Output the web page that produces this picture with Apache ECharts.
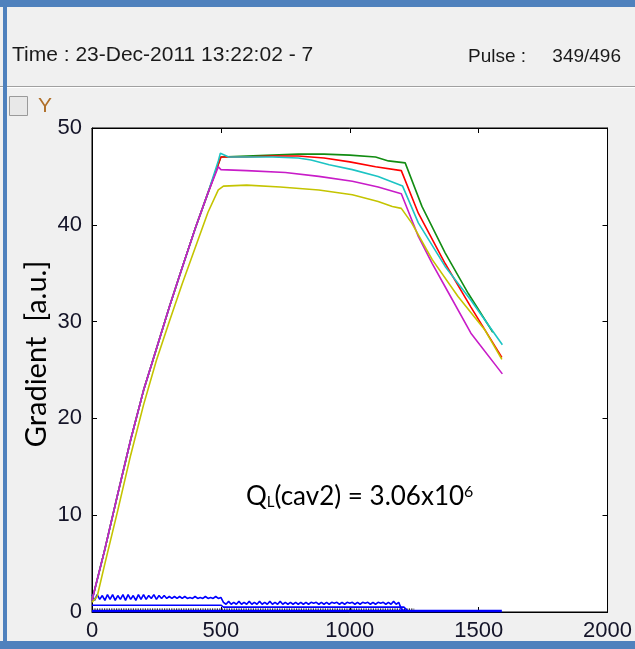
<!DOCTYPE html>
<html>
<head>
<meta charset="utf-8">
<script src="https://cdn.jsdelivr.net/npm/echarts@6/dist/echarts.min.js"></script>
<style>
  html, body { margin: 0; padding: 0; background: #f0f0f0; }
  #chart { width: 635px; height: 649px; }
</style>
</head>
<body>
<div id="chart"></div>
<script>
// ---- data ----
// common filling curve (green / red / cyan / magenta overlap here)
const riseX = [0, 50, 100, 150, 200, 250, 300, 350, 400, 450];
const riseY = [1.2, 6.5, 12.2, 17.8, 22.9, 27.2, 31.5, 35.6, 39.6, 43.3];

const greenX = [500, 600, 700, 800, 900, 1000, 1100, 1150, 1215, 1280, 1370, 1460, 1555];
const greenY = [47.0, 47.1, 47.2, 47.3, 47.3, 47.2, 47.0, 46.6, 46.4, 41.9, 37.1, 32.9, 28.9];

const redX = [500, 600, 700, 800, 900, 1000, 1100, 1200, 1266, 1370, 1470, 1590];
const redY = [47.0, 47.0, 47.1, 47.1, 46.9, 46.5, 46.0, 45.6, 41.2, 36.0, 31.5, 26.3];

const cyanX = [490, 498, 530, 600, 700, 800, 850, 920, 1010, 1110, 1205, 1266, 1370, 1470, 1592];
const cyanY = [46.6, 47.4, 47.0, 47.0, 47.0, 46.9, 46.7, 46.2, 45.7, 45.0, 44.0, 40.2, 35.7, 32.2, 27.6];

const magentaX = [490, 500, 600, 750, 880, 1010, 1110, 1200, 1266, 1320, 1370, 1470, 1592];
const magentaY = [46.0, 45.7, 45.6, 45.4, 45.0, 44.5, 43.9, 43.2, 38.8, 36.0, 33.6, 28.8, 24.6];

const yellowX = [0, 20, 50, 100, 150, 200, 250, 300, 350, 400, 450, 490, 510,
                 600, 730, 880, 1010, 1110, 1165, 1200, 1240, 1320, 1420, 1525, 1590];
const yellowY = [1.0, 1.6, 5.0, 10.5, 16.2, 21.4, 26.0, 30.0, 33.9, 37.6, 41.3, 43.6, 44.0,
                 44.1, 43.9, 43.6, 43.1, 42.4, 41.9, 41.7, 40.2, 36.4, 32.6, 29.1, 26.1];

// noisy blue trace near zero, sampled every 10
const noiseStep = 10;
const blueNoiseY = [
  1.8, 1.2, 1.8, 1.3, 1.7, 1.2, 1.8, 1.3, 1.8, 1.2,
  1.7, 1.3, 1.8, 1.2, 1.8, 1.3, 1.7, 1.2, 1.8, 1.3,
  1.8, 1.3, 1.7, 1.4, 1.8, 1.3, 1.7, 1.4, 1.7, 1.4,
  1.6, 1.4, 1.6, 1.4, 1.6, 1.4, 1.6, 1.4, 1.5, 1.4,
  1.6, 1.4, 1.5, 1.4, 1.6, 1.4, 1.5, 1.4, 1.6, 1.4,
  1.5,
  1.0, 0.8, 1.1, 0.8, 1.0, 0.8, 1.1, 0.8, 1.0, 0.8,
  1.1, 0.8, 1.0, 0.8, 1.1, 0.8, 1.0, 0.8, 1.1, 0.8,
  1.0, 0.8, 1.1, 0.8, 1.0, 0.8, 1.0, 0.8, 1.0, 0.8,
  1.0, 0.8, 1.0, 0.8, 1.0, 0.9, 1.0, 0.8, 1.0, 0.8,
  1.0, 0.8, 1.0, 0.9, 1.0, 0.8, 1.0, 0.8, 1.0, 0.9,
  1.0, 0.8, 1.0, 0.8, 1.0, 0.9, 1.0, 0.8, 1.0, 0.8,
  1.0, 0.9, 1.0, 0.8, 1.0, 0.8, 1.1, 0.8, 1.0, 0.3,
  0.15, 0.1
];
const blueMidX = [0, 500, 510, 1210, 1225];
const blueMidY = [0.7, 0.7, 0.5, 0.5, 0.12];
const blueBaseX = [0, 1590];
const blueBaseY = [0.1, 0.1];
const blackX = [0, 1250];
const blackY = [0.3, 0.3];

const xTicks = [0, 2000, 500];   // min, max, step
const yTicks = [0, 50, 10];

// pair up x / y lists
function pts(xs, ys) {
  return xs.map((x, i) => [x, ys[i]]);
}

const chart = echarts.init(document.getElementById('chart'));

const lineBase = (name, color, data, width, type) => ({
  name: name,
  type: 'line',
  data: data,
  showSymbol: false,
  silent: true,
  animation: false,
  lineStyle: { color: color, width: width || 1.6, type: type || 'solid' },
  itemStyle: { color: color }
});

const tickFont = { fontSize: 22, color: '#141428', fontFamily: 'Liberation Sans, Arial, sans-serif' };
const hdrFont = 'Liberation Sans, Arial, sans-serif';
// box around the plot, ticks pointing inwards (MATLAB style)
const boxLine = { show: true, onZero: false, lineStyle: { color: '#000', width: 1 } };
const inTick = { show: true, inside: true, length: 5, lineStyle: { color: '#000', width: 1 } };

const option = {
  backgroundColor: '#f0f0f0',
  animation: false,
  grid: {
    left: 92, top: 128, width: 518, height: 484,
    show: true, backgroundColor: '#ffffff', borderColor: '#000', borderWidth: 1
  },
  xAxis: [{
    type: 'value', min: xTicks[0], max: xTicks[1], interval: xTicks[2],
    position: 'bottom',
    axisLine: boxLine,
    axisTick: inTick,
    axisLabel: Object.assign({ margin: 8, formatter: v => String(v) }, tickFont),
    splitLine: { show: false }
  }, {
    type: 'value', min: xTicks[0], max: xTicks[1], interval: xTicks[2],
    position: 'top',
    axisLine: boxLine,
    axisTick: inTick,
    axisLabel: { show: false },
    splitLine: { show: false }
  }],
  yAxis: [{
    type: 'value', min: yTicks[0], max: yTicks[1], interval: yTicks[2],
    position: 'left',
    axisLine: boxLine,
    axisTick: inTick,
    axisLabel: Object.assign({ margin: 10, formatter: v => String(v) }, tickFont),
    splitLine: { show: false }
  }, {
    type: 'value', min: yTicks[0], max: yTicks[1], interval: yTicks[2],
    position: 'right',
    axisLine: boxLine,
    axisTick: inTick,
    axisLabel: { show: false },
    splitLine: { show: false }
  }],
  series: [
    lineBase('blueBase', '#0000ff', pts(blueBaseX, blueBaseY), 2.4),
    lineBase('black', '#000000', pts(blackX, blackY), 1.2, 'dotted'),
    lineBase('blueMid', '#0000ff', pts(blueMidX, blueMidY), 1.6),
    lineBase('blueNoise', '#0000ff', blueNoiseY.map((v, i) => [i * noiseStep, v]), 1.6),
    lineBase('green', '#128c12', pts(riseX.concat(greenX), riseY.concat(greenY))),
    lineBase('red', '#ff0000', pts(riseX.concat(redX), riseY.concat(redY))),
    lineBase('cyan', '#1cc4c4', pts(riseX.concat(cyanX), riseY.concat(cyanY))),
    lineBase('magenta', '#c81cc8', pts(riseX.concat(magentaX), riseY.concat(magentaY))),
    lineBase('yellow', '#c4c400', pts(yellowX, yellowY))
  ],
  graphic: [
    // window frame
    { type: 'rect', z: 100, shape: { x: 0, y: 0, width: 635, height: 7 }, style: { fill: '#4f81bd' } },
    { type: 'rect', z: 100, shape: { x: 3, y: 7, width: 4, height: 642 }, style: { fill: '#4f81bd' } },
    { type: 'rect', z: 100, shape: { x: 0, y: 641, width: 635, height: 8 }, style: { fill: '#4f81bd' } },
    { type: 'rect', z: 99, shape: { x: 0, y: 86, width: 635, height: 1 }, style: { fill: '#a0a0a0' } },
    { type: 'rect', z: 99, shape: { x: 0, y: 87, width: 635, height: 1 }, style: { fill: '#ffffff' } },
    // header texts
    { type: 'text', z: 100, style: { text: 'Time : 23-Dec-2011 13:22:02 - 7', x: 12, y: 55,
        verticalAlign: 'middle', fontSize: 21, fontFamily: hdrFont, fill: '#1a1a1a' } },
    { type: 'text', z: 100, style: { text: 'Pulse :', x: 468, y: 57,
        verticalAlign: 'middle', fontSize: 19, fontFamily: hdrFont, fill: '#1a1a1a' } },
    { type: 'text', z: 100, style: { text: '349/496', x: 621, y: 57, align: 'right',
        verticalAlign: 'middle', fontSize: 19, fontFamily: hdrFont, fill: '#1a1a1a' } },
    // checkbox "Y"
    { type: 'rect', z: 100, shape: { x: 9.5, y: 96.5, width: 18, height: 19 },
      style: { fill: '#e8e8e8', stroke: '#9a9a9a', lineWidth: 1 } },
    { type: 'text', z: 100, style: { text: 'Y', x: 38, y: 106, verticalAlign: 'middle',
        fontSize: 21, fontFamily: hdrFont, fill: '#b0702a' } },
    // y axis title
    { type: 'text', z: 100, x: 37, y: 354, rotation: Math.PI / 2,
      style: { text: 'Gradient  [a.u.]', x: 0, y: 0, align: 'center', verticalAlign: 'middle',
        fontSize: 29, fontFamily: 'Lato, sans-serif', fill: '#000' } },
    // annotation
    { type: 'text', z: 100,
      style: {
        text: '{b|Q}{s|L}{b|(cav2) = 3.06x10}{p|6}',
        x: 246, y: 497, verticalAlign: 'middle',
        rich: {
          b: { fontSize: 26, fontFamily: 'Lato, sans-serif', fill: '#000' },
          s: { fontSize: 15, fontFamily: 'Lato, sans-serif', fill: '#000', verticalAlign: 'bottom' },
          p: { fontSize: 16, fontFamily: 'Lato, sans-serif', fill: '#000', verticalAlign: 'top' }
        }
      } }
  ]
};

chart.setOption(option);
</script>
</body>
</html>
